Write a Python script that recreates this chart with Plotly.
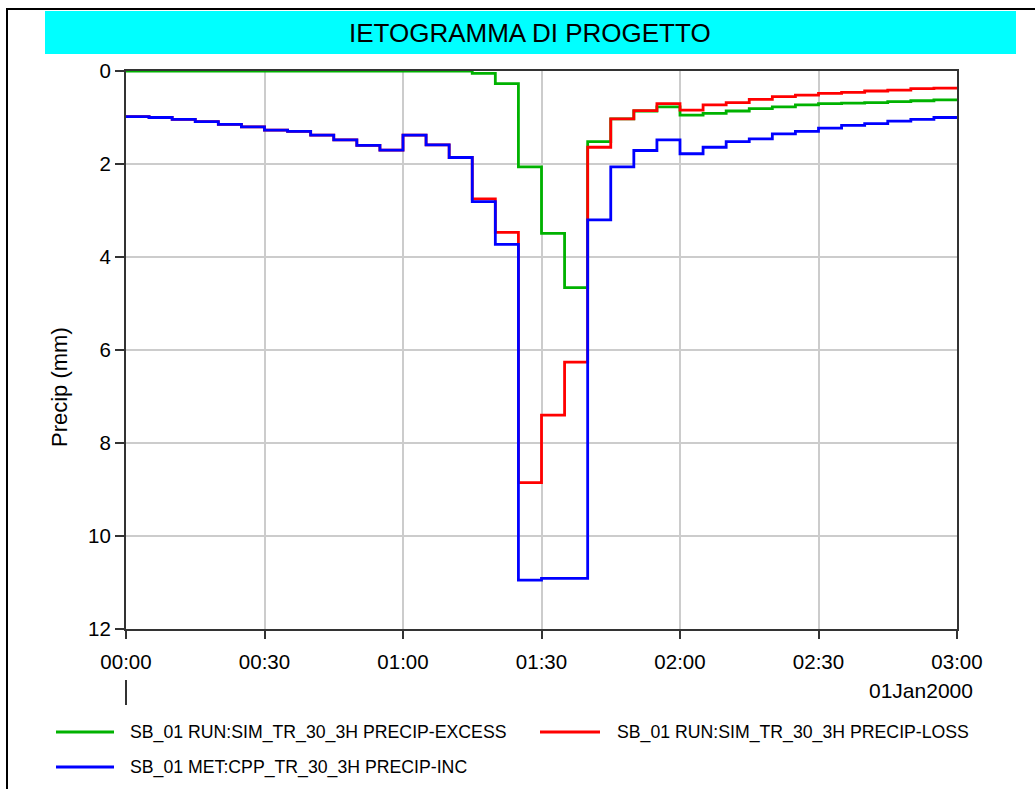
import plotly.graph_objects as go
import pandas as pd

# ---- data (5-minute increments, mm) ----
start_times = pd.date_range("2000-01-01 00:00", "2000-01-01 03:00", freq="5min")

precip_inc = [0.98, 1.00, 1.04, 1.09, 1.15, 1.20, 1.27, 1.30, 1.38, 1.48, 1.60, 1.70,
              1.38, 1.59, 1.86, 2.81, 3.73, 10.95, 10.91, 10.91, 3.20, 2.06, 1.71, 1.48,
              1.78, 1.64, 1.52, 1.46, 1.35, 1.30, 1.23, 1.17, 1.13, 1.08, 1.04, 1.00]

precip_excess = [0.0, 0.0, 0.0, 0.0, 0.0, 0.0, 0.0, 0.0, 0.0, 0.0, 0.0, 0.0,
                 0.0, 0.0, 0.0, 0.05, 0.27, 2.06, 3.49, 4.66, 1.52, 1.03, 0.86, 0.77,
                 0.95, 0.91, 0.86, 0.81, 0.77, 0.73, 0.70, 0.69, 0.68, 0.66, 0.64, 0.62]

precip_loss = [0.98, 1.00, 1.04, 1.09, 1.15, 1.20, 1.27, 1.30, 1.38, 1.48, 1.60, 1.70,
               1.38, 1.59, 1.86, 2.75, 3.47, 8.85, 7.40, 6.26, 1.64, 1.03, 0.85, 0.70,
               0.84, 0.73, 0.68, 0.61, 0.55, 0.52, 0.48, 0.46, 0.43, 0.41, 0.38, 0.37]

series_names = ["SB_01 RUN:SIM_TR_30_3H PRECIP-EXCESS",
                "SB_01 RUN:SIM_TR_30_3H PRECIP-LOSS",
                "SB_01 MET:CPP_TR_30_3H PRECIP-INC"]
series_colors = ["rgb(0,178,0)", "rgb(255,0,0)", "rgb(0,0,255)"]

title_text = "IETOGRAMMA DI PROGETTO"
y_title = "Precip (mm)"
date_label = "01Jan2000"

# ---- figure geometry ----
W, H = 1035, 789
L, R, T, B = 126, 957, 71, 629


def px(x):
    return (x - L) / (R - L)


def py(y):
    return (B - y) / (B - T)


FONT = "Liberation Sans, Arial, sans-serif"

fig = go.Figure()
for vals, name, col in zip([precip_excess, precip_loss, precip_inc], series_names, series_colors):
    fig.add_trace(go.Scatter(
        x=start_times, y=list(vals) + [vals[-1]], mode="lines",
        line=dict(color=col, width=2.8, shape="hv"), name=name, showlegend=False,
        hoverinfo="skip"))

shapes = []
annotations = []

# outer frame
shapes.append(dict(type="path", xref="paper", yref="paper",
                   path=f"M {px(7)} {py(800)} L {px(7)} {py(9)} L {px(1040)} {py(9)}",
                   line=dict(color="black", width=2)))
# title band
shapes.append(dict(type="rect", xref="paper", yref="paper",
                   x0=px(45), x1=px(1016), y0=py(54), y1=py(11),
                   fillcolor="#00ffff", line=dict(width=0), layer="below"))
annotations.append(dict(text=title_text, xref="paper", yref="paper",
                        x=px(530), y=py(33), showarrow=False,
                        font=dict(family=FONT, size=26, color="black"),
                        xanchor="center", yanchor="middle"))
# y axis title
annotations.append(dict(text=y_title, xref="paper", yref="paper", textangle=-90,
                        x=px(59), y=py(387), showarrow=False,
                        font=dict(family=FONT, size=22, color="black"),
                        xanchor="center", yanchor="middle"))
# date label and marker line
annotations.append(dict(text=date_label, xref="paper", yref="paper",
                        x=px(975), y=py(690), showarrow=False,
                        font=dict(family=FONT, size=21, color="black"),
                        xanchor="right", yanchor="middle"))
shapes.append(dict(type="line", xref="paper", yref="paper",
                   x0=px(126), x1=px(126), y0=py(680), y1=py(705),
                   line=dict(color="#333333", width=2)))

# legend
legend_pos = [(56, 114, 732, 128), (540, 600, 732, 615), (56, 114, 767, 128)]
for (x0, x1, yy, tx), name, col in zip(legend_pos, series_names, series_colors):
    shapes.append(dict(type="line", xref="paper", yref="paper",
                       x0=px(x0), x1=px(x1), y0=py(yy), y1=py(yy),
                       line=dict(color=col, width=3)))
    annotations.append(dict(text=name, xref="paper", yref="paper",
                            x=px(tx), y=py(yy), showarrow=False,
                            font=dict(family=FONT, size=17.7, color="black"),
                            xanchor="left", yanchor="middle"))

fig.update_layout(
    width=W, height=H,
    margin=dict(l=L, r=W - R, t=T, b=H - B),
    paper_bgcolor="white", plot_bgcolor="white",
    shapes=shapes, annotations=annotations,
    font=dict(family=FONT, size=20, color="black"),
    xaxis=dict(type="date", range=[start_times[0], start_times[-1]],
               dtick=30 * 60 * 1000, tickformat="%H:%M",
               ticks="outside", ticklen=8, tickwidth=2, tickcolor="#333333",
               showline=True, linecolor="#333333", linewidth=2, mirror=True,
               showgrid=True, gridcolor="#cccccc", gridwidth=1.5, zeroline=False,
               tickfont=dict(family=FONT, size=20.5), ticklabelstandoff=5),
    yaxis=dict(range=[12, 0], dtick=2, ticks="outside", ticklen=9, tickwidth=1.5,
               tickcolor="#333333", showline=True, linecolor="#333333", linewidth=2,
               mirror=True, showgrid=True, gridcolor="#cccccc", gridwidth=1.5,
               zeroline=False, tickfont=dict(family=FONT, size=20.5)),
)

fig.write_html("out.html", config={"displayModeBar": False},
               post_script="document.body.style.margin='0';document.body.style.overflow='hidden';")
